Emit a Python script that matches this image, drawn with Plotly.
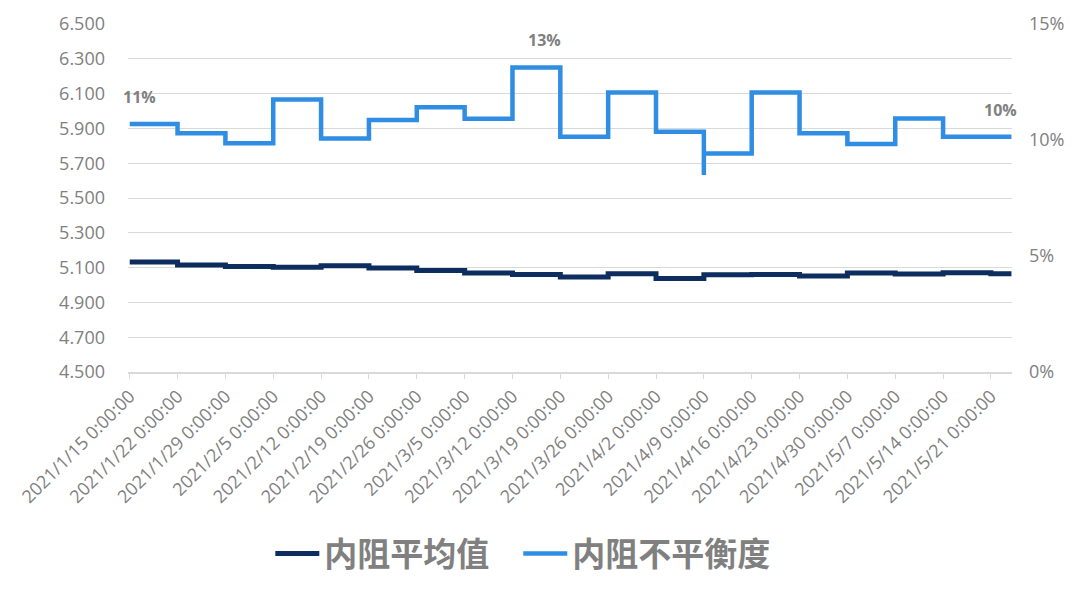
import plotly.graph_objects as go
from datetime import datetime

# ---- data ----
week_dates = ["2021-01-15", "2021-01-22", "2021-01-29", "2021-02-05", "2021-02-12",
              "2021-02-19", "2021-02-26", "2021-03-05", "2021-03-12", "2021-03-19",
              "2021-03-26", "2021-04-02", "2021-04-09", "2021-04-16", "2021-04-23",
              "2021-04-30", "2021-05-07", "2021-05-14", "2021-05-21"]
# series dates (4/9 appears twice: a one-day dip in the imbalance), last row closes the final period
series_dates = ["2021-01-15", "2021-01-22", "2021-01-29", "2021-02-05", "2021-02-12",
                "2021-02-19", "2021-02-26", "2021-03-05", "2021-03-12", "2021-03-19",
                "2021-03-26", "2021-04-02", "2021-04-09", "2021-04-09", "2021-04-16",
                "2021-04-23", "2021-04-30", "2021-05-07", "2021-05-14", "2021-05-21",
                "2021-05-24"]
avg_resistance = [5.132, 5.115, 5.107, 5.102, 5.111, 5.098, 5.084, 5.069, 5.061, 5.046,
                  5.065, 5.038, 5.059, 5.059, 5.061, 5.052, 5.069, 5.063, 5.071, 5.065,
                  5.065]
imbalance = [0.1069, 0.1029, 0.0986, 0.1175, 0.1007, 0.1086, 0.1141, 0.1092, 0.1313, 0.1014,
             0.1205, 0.1036, 0.0849, 0.0942, 0.1205, 0.1029, 0.0983, 0.1093, 0.1014, 0.1014,
             0.1014]
labelled_points = [0, 8, 19]   # indices of imbalance points carrying a data label
label_xshift = [10, 32, 10]

left_ticks = [4.5, 4.7, 4.9, 5.1, 5.3, 5.5, 5.7, 5.9, 6.1, 6.3, 6.5]
right_ticks = [0, 0.05, 0.10, 0.15]

tick_text = [datetime.strptime(d, "%Y-%m-%d").strftime("%Y/%-m/%-d") + " 0:00:00" for d in week_dates]

DARK = "#0c2d5e"
BLUE = "#2f8de4"
GRAY = "#808080"
GRID = "#d9d9d9"
FONT = "Open Sans, Noto Sans CJK SC, sans-serif"
CJK = "Noto Sans CJK SC, sans-serif"

fig = go.Figure()
fig.add_trace(go.Scatter(x=series_dates, y=avg_resistance, mode="lines", name="内阻平均值",
                         line=dict(color=DARK, width=5, shape="hv"), yaxis="y",
                         legend="legend"))
fig.add_trace(go.Scatter(x=series_dates, y=imbalance, mode="lines", name="内阻不平衡度",
                         line=dict(color=BLUE, width=4.5, shape="hv"), yaxis="y2",
                         legend="legend2"))

for i, xs in zip(labelled_points, label_xshift):
    fig.add_annotation(x=series_dates[i], y=imbalance[i], xref="x", yref="y2",
                       text=f"{imbalance[i]:.0%}", showarrow=False, xshift=xs, yshift=27,
                       font=dict(family=FONT, size=16, color=GRAY, weight="bold"))

legend_style = dict(orientation="h", xanchor="left", y=-0.522, yanchor="middle",
                    font=dict(family=CJK, size=33, color=GRAY, weight="bold"),
                    itemwidth=44, bgcolor="rgba(0,0,0,0)")

fig.update_layout(
    width=1080, height=601,
    margin=dict(l=128, r=68, t=24, b=229, autoexpand=False),
    paper_bgcolor="white", plot_bgcolor="white",
    showlegend=True,
    legend=dict(x=0.161, **legend_style),
    legend2=dict(x=0.4415, **legend_style),
    xaxis=dict(type="date", range=["2021-01-14 18:00", "2021-05-24 02:00"],
               tickvals=week_dates, ticktext=tick_text, tickangle=-45,
               tickfont=dict(family=FONT, size=18, color=GRAY), automargin=False,
               showgrid=False, showline=True, linecolor=GRID, linewidth=1.5,
               ticks="outside", ticklen=5, tickcolor=GRID, zeroline=False),
    yaxis=dict(range=[4.5, 6.5], tickvals=left_ticks, tickformat=".3f", automargin=False,
               tickfont=dict(family=FONT, size=18, color=GRAY),
               showgrid=True, gridcolor=GRID, gridwidth=1, zeroline=False,
               showline=False, ticks="", ticklabelstandoff=22),
    yaxis2=dict(range=[0, 0.15], tickvals=right_ticks, tickformat=".0%", overlaying="y",
                side="right", tickfont=dict(family=FONT, size=18, color=GRAY), automargin=False,
                showgrid=False, zeroline=False, showline=False, ticks="",
                ticklabelstandoff=16),
)

fig.write_html("out.html", config={"displayModeBar": False},
               post_script="document.body.style.margin='0';")
